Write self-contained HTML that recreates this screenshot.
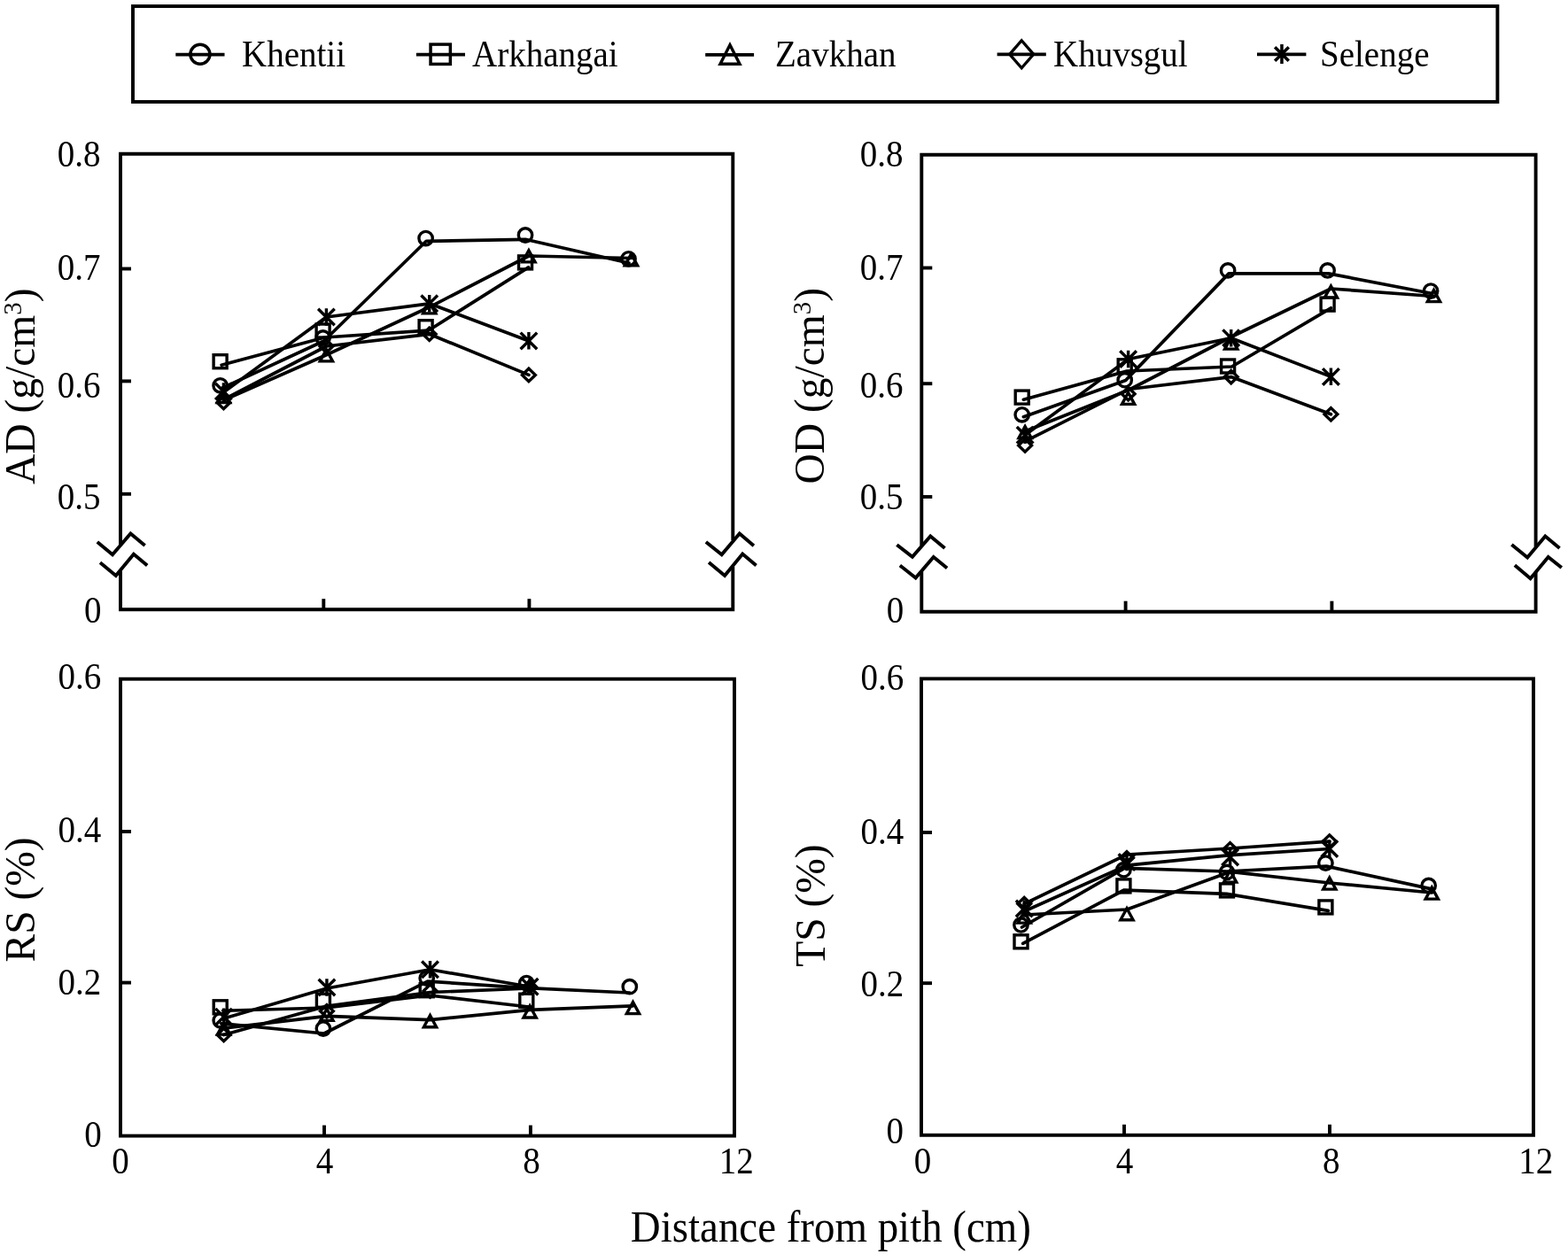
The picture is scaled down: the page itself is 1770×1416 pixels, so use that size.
<!DOCTYPE html><html><head><meta charset="utf-8"><style>html,body{margin:0;padding:0;background:#fff;}svg{display:block}</style></head><body>
<svg width="1770" height="1416" viewBox="0 0 1770 1416" font-family="'Liberation Serif','Times New Roman',serif" stroke="#000" fill="#000">
<rect x="0" y="0" width="1770" height="1416" fill="#fff" stroke="none"/>
<rect x="150" y="7" width="1540.4" height="108" fill="none" stroke-width="3.9"/>
<line x1="198.3" y1="61.6" x2="253.5" y2="61.6" stroke-width="3.8" stroke-linecap="butt"/>
<circle cx="225.9" cy="61.2" r="11" fill="none" stroke-width="3.5"/>
<line x1="469.9" y1="61.6" x2="525.0" y2="61.6" stroke-width="3.8" stroke-linecap="butt"/>
<rect x="486.05" y="50.1" width="22.3" height="22.3" fill="none" stroke-width="3.5"/>
<line x1="796.2" y1="61.8" x2="851.1" y2="61.8" stroke-width="3.8" stroke-linecap="butt"/>
<polygon points="824,50.75 835,72.25 813,72.25" fill="none" stroke-width="3.4" stroke-linejoin="miter"/>
<line x1="1125.6" y1="61.4" x2="1180.8" y2="61.4" stroke-width="3.8" stroke-linecap="butt"/>
<polygon points="1153.2,45.75 1166.7,61.3 1153.2,76.85 1139.7,61.3" fill="none" stroke-width="3.3" stroke-linejoin="miter"/>
<line x1="1419.0" y1="61.4" x2="1474.4" y2="61.4" stroke-width="3.8" stroke-linecap="butt"/>
<path d="M1446.95,50.1V72M1439.15,53.25L1454.75,68.85M1454.75,53.25L1439.15,68.85" fill="none" stroke-width="3.5"/>
<text transform="translate(273.0,75.0) scale(0.94,1)" font-size="41.5" text-anchor="start" stroke="none">Khentii</text>
<text transform="translate(533.0,75.0) scale(0.94,1)" font-size="41.5" text-anchor="start" stroke="none">Arkhangai</text>
<text transform="translate(875.0,75.0) scale(0.94,1)" font-size="41.5" text-anchor="start" stroke="none">Zavkhan</text>
<text transform="translate(1189.0,75.0) scale(0.94,1)" font-size="41.5" text-anchor="start" stroke="none">Khuvsgul</text>
<text transform="translate(1490.0,75.0) scale(0.94,1)" font-size="41.5" text-anchor="start" stroke="none">Selenge</text>
<polyline points="136.0,616.5 136.0,173.7 827.3,173.7 827.3,610.0" fill="none" stroke-width="3.9" stroke-linejoin="miter" stroke-linecap="butt"/>
<polyline points="136.0,644.6 136.0,688.2 827.3,688.2 827.3,639.8" fill="none" stroke-width="3.9" stroke-linejoin="miter" stroke-linecap="butt"/>
<line x1="136.0" y1="303.5" x2="148.0" y2="303.5" stroke-width="3.9" stroke-linecap="butt"/>
<line x1="136.0" y1="430.4" x2="148.0" y2="430.4" stroke-width="3.9" stroke-linecap="butt"/>
<line x1="136.0" y1="557.8" x2="148.0" y2="557.8" stroke-width="3.9" stroke-linecap="butt"/>
<line x1="365.3" y1="688.2" x2="365.3" y2="676.2" stroke-width="3.9" stroke-linecap="butt"/>
<line x1="597.4" y1="688.2" x2="597.4" y2="676.2" stroke-width="3.9" stroke-linecap="butt"/>
<polyline points="109.8,612.0 127.0,626.3 147.4,602.4 163.6,616.0" fill="none" stroke-width="3.9" stroke-linejoin="miter" stroke-linecap="butt"/>
<polyline points="113.0,635.3 130.8,649.9 150.9,625.8 166.2,638.5" fill="none" stroke-width="3.9" stroke-linejoin="miter" stroke-linecap="butt"/>
<polyline points="796.9,612.0 814.7,626.3 834.8,602.4 850.9,616.2" fill="none" stroke-width="3.9" stroke-linejoin="miter" stroke-linecap="butt"/>
<polyline points="800.1,635.0 818.1,649.9 838.2,625.5 853.6,638.5" fill="none" stroke-width="3.9" stroke-linejoin="miter" stroke-linecap="butt"/>
<polyline points="1040.3,616.5 1040.3,174.7 1733.6,174.7 1733.6,617.5" fill="none" stroke-width="3.9" stroke-linejoin="miter" stroke-linecap="butt"/>
<polyline points="1040.3,645.6 1040.3,690.7 1733.6,690.7 1733.6,646.2" fill="none" stroke-width="3.9" stroke-linejoin="miter" stroke-linecap="butt"/>
<line x1="1040.3" y1="302.5" x2="1052.3" y2="302.5" stroke-width="3.9" stroke-linecap="butt"/>
<line x1="1040.3" y1="433.2" x2="1052.3" y2="433.2" stroke-width="3.9" stroke-linecap="butt"/>
<line x1="1040.3" y1="561.0" x2="1052.3" y2="561.0" stroke-width="3.9" stroke-linecap="butt"/>
<line x1="1270.6" y1="690.7" x2="1270.6" y2="678.7" stroke-width="3.9" stroke-linecap="butt"/>
<line x1="1503.4" y1="690.7" x2="1503.4" y2="678.7" stroke-width="3.9" stroke-linecap="butt"/>
<polyline points="1012.4,615.2 1029.9,628.9 1050.3,605.4 1066.5,619.1" fill="none" stroke-width="3.9" stroke-linejoin="miter" stroke-linecap="butt"/>
<polyline points="1015.9,638.5 1033.6,652.5 1053.8,628.9 1069.1,641.4" fill="none" stroke-width="3.9" stroke-linejoin="miter" stroke-linecap="butt"/>
<polyline points="1706.4,614.9 1724.2,629.5 1744.3,605.4 1760.5,618.9" fill="none" stroke-width="3.9" stroke-linejoin="miter" stroke-linecap="butt"/>
<polyline points="1709.9,638.2 1727.6,653.3 1747.7,628.9 1762.8,641.1" fill="none" stroke-width="3.9" stroke-linejoin="miter" stroke-linecap="butt"/>
<rect x="136" y="766.7" width="693" height="515.8999999999999" fill="none" stroke-width="3.9"/>
<line x1="136.0" y1="939.0" x2="148.0" y2="939.0" stroke-width="3.9" stroke-linecap="butt"/>
<line x1="136.0" y1="1109.6" x2="148.0" y2="1109.6" stroke-width="3.9" stroke-linecap="butt"/>
<line x1="366.0" y1="1282.6" x2="366.0" y2="1270.6" stroke-width="3.9" stroke-linecap="butt"/>
<line x1="598.9" y1="1282.6" x2="598.9" y2="1270.6" stroke-width="3.9" stroke-linecap="butt"/>
<rect x="1040" y="766.4" width="691" height="515.4" fill="none" stroke-width="3.9"/>
<line x1="1040.0" y1="940.0" x2="1052.0" y2="940.0" stroke-width="3.9" stroke-linecap="butt"/>
<line x1="1040.0" y1="1110.2" x2="1052.0" y2="1110.2" stroke-width="3.9" stroke-linecap="butt"/>
<line x1="1269.0" y1="1281.8" x2="1269.0" y2="1269.8" stroke-width="3.9" stroke-linecap="butt"/>
<line x1="1501.0" y1="1281.8" x2="1501.0" y2="1269.8" stroke-width="3.9" stroke-linecap="butt"/>
<text transform="translate(113.6,187.8) scale(0.94,1)" font-size="41.5" text-anchor="end" stroke="none">0.8</text>
<text transform="translate(113.6,315.5) scale(0.94,1)" font-size="41.5" text-anchor="end" stroke="none">0.7</text>
<text transform="translate(113.6,448.5) scale(0.94,1)" font-size="41.5" text-anchor="end" stroke="none">0.6</text>
<text transform="translate(113.6,574.8) scale(0.94,1)" font-size="41.5" text-anchor="end" stroke="none">0.5</text>
<text transform="translate(114.4,703.1) scale(0.94,1)" font-size="41.5" text-anchor="end" stroke="none">0</text>
<text transform="translate(1019.6,187.8) scale(0.94,1)" font-size="41.5" text-anchor="end" stroke="none">0.8</text>
<text transform="translate(1019.6,315.5) scale(0.94,1)" font-size="41.5" text-anchor="end" stroke="none">0.7</text>
<text transform="translate(1019.6,448.5) scale(0.94,1)" font-size="41.5" text-anchor="end" stroke="none">0.6</text>
<text transform="translate(1019.6,574.8) scale(0.94,1)" font-size="41.5" text-anchor="end" stroke="none">0.5</text>
<text transform="translate(1020.2,703.1) scale(0.94,1)" font-size="41.5" text-anchor="end" stroke="none">0</text>
<text transform="translate(114.2,777.8) scale(0.94,1)" font-size="41.5" text-anchor="end" stroke="none">0.6</text>
<text transform="translate(114.2,951.4) scale(0.94,1)" font-size="41.5" text-anchor="end" stroke="none">0.4</text>
<text transform="translate(114.2,1122.5) scale(0.94,1)" font-size="41.5" text-anchor="end" stroke="none">0.2</text>
<text transform="translate(114.7,1294.9) scale(0.94,1)" font-size="41.5" text-anchor="end" stroke="none">0</text>
<text transform="translate(1020.2,779.3) scale(0.94,1)" font-size="41.5" text-anchor="end" stroke="none">0.6</text>
<text transform="translate(1020.2,952.8) scale(0.94,1)" font-size="41.5" text-anchor="end" stroke="none">0.4</text>
<text transform="translate(1020.2,1125.2) scale(0.94,1)" font-size="41.5" text-anchor="end" stroke="none">0.2</text>
<text transform="translate(1020.0,1291.1) scale(0.94,1)" font-size="41.5" text-anchor="end" stroke="none">0</text>
<text transform="translate(136.0,1324.8) scale(0.94,1)" font-size="41.5" text-anchor="middle" stroke="none">0</text>
<text transform="translate(366.6,1324.8) scale(0.94,1)" font-size="41.5" text-anchor="middle" stroke="none">4</text>
<text transform="translate(599.9,1324.8) scale(0.94,1)" font-size="41.5" text-anchor="middle" stroke="none">8</text>
<text transform="translate(831.2,1324.8) scale(0.94,1)" font-size="41.5" text-anchor="middle" stroke="none">12</text>
<text transform="translate(1041.4,1324.8) scale(0.94,1)" font-size="41.5" text-anchor="middle" stroke="none">0</text>
<text transform="translate(1269.6,1324.8) scale(0.94,1)" font-size="41.5" text-anchor="middle" stroke="none">4</text>
<text transform="translate(1502.7,1324.8) scale(0.94,1)" font-size="41.5" text-anchor="middle" stroke="none">8</text>
<text transform="translate(1733.8,1324.8) scale(0.94,1)" font-size="41.5" text-anchor="middle" stroke="none">12</text>
<text transform="translate(38.8,436.3) rotate(-90)" font-size="47.5" text-anchor="middle" stroke="none">AD (g/cm<tspan font-size="29" dy="-15">3</tspan><tspan dy="15">)</tspan></text>
<text transform="translate(929.8,435.8) rotate(-90)" font-size="47.5" text-anchor="middle" stroke="none">OD (g/cm<tspan font-size="29" dy="-15">3</tspan><tspan dy="15">)</tspan></text>
<text transform="translate(38.8,1015.9) rotate(-90)" font-size="47.5" text-anchor="middle" stroke="none">RS (%)</text>
<text transform="translate(930.8,1022.6) rotate(-90)" font-size="47.5" text-anchor="middle" stroke="none">TS (%)</text>
<text transform="translate(937.9,1402.0) scale(0.92,1)" font-size="51" text-anchor="middle" stroke="none">Distance from pith (cm)</text>
<polyline points="249.6,438.8 365.6,385.0 481.2,272.3 593.0,270.3 710.0,297.0" fill="none" stroke-width="3.7" stroke-linejoin="round" stroke-linecap="round"/>
<circle cx="248.6" cy="435.3" r="7.70" fill="none" stroke-width="3.40"/>
<circle cx="364.6" cy="381.5" r="7.70" fill="none" stroke-width="3.40"/>
<circle cx="480.6" cy="269.1" r="7.70" fill="none" stroke-width="3.40"/>
<circle cx="593.0" cy="265.5" r="7.70" fill="none" stroke-width="3.40"/>
<circle cx="709.5" cy="292.3" r="7.70" fill="none" stroke-width="3.40"/>
<polyline points="250.1,412.2 366.5,381.0 483.6,373.2 596.6,301.9" fill="none" stroke-width="3.7" stroke-linejoin="round" stroke-linecap="round"/>
<rect x="241.1" y="400.7" width="15.0" height="15.0" fill="none" stroke-width="3.40"/>
<rect x="357.1" y="366.0" width="15.0" height="15.0" fill="none" stroke-width="3.40"/>
<rect x="473.1" y="361.7" width="15.0" height="15.0" fill="none" stroke-width="3.40"/>
<rect x="585.5" y="288.9" width="15.0" height="15.0" fill="none" stroke-width="3.40"/>
<polyline points="252.4,452.0 368.4,400.8 484.7,346.8 596.9,289.0 712.5,291.5" fill="none" stroke-width="3.7" stroke-linejoin="round" stroke-linecap="round"/>
<polygon points="252.4,441.4 259.5,454.5 245.3,454.5" fill="none" stroke-width="3.40" stroke-linejoin="miter"/>
<polygon points="368.4,394.8 375.5,407.9 361.3,407.9" fill="none" stroke-width="3.40" stroke-linejoin="miter"/>
<polygon points="484.7,340.8 491.8,353.9 477.6,353.9" fill="none" stroke-width="3.40" stroke-linejoin="miter"/>
<polygon points="596.9,282.8 604.0,295.9 589.8,295.9" fill="none" stroke-width="3.40" stroke-linejoin="miter"/>
<polygon points="712.5,286.8 719.6,299.9 705.4,299.9" fill="none" stroke-width="3.40" stroke-linejoin="miter"/>
<polyline points="252.4,451.2 368.4,391.0 484.7,377.3 596.9,423.4" fill="none" stroke-width="3.7" stroke-linejoin="round" stroke-linecap="round"/>
<polygon points="252.4,447.3 259.8,454.5 252.4,461.7 245.0,454.5" fill="none" stroke-width="3.40" stroke-linejoin="miter"/>
<polygon points="368.4,383.8 375.8,391.0 368.4,398.2 361.0,391.0" fill="none" stroke-width="3.40" stroke-linejoin="miter"/>
<polygon points="484.7,370.1 492.1,377.3 484.7,384.5 477.3,377.3" fill="none" stroke-width="3.40" stroke-linejoin="miter"/>
<polygon points="596.9,416.2 604.3,423.4 596.9,430.6 589.5,423.4" fill="none" stroke-width="3.40" stroke-linejoin="miter"/>
<polyline points="252.4,443.0 368.4,358.0 484.7,342.8 596.9,384.9" fill="none" stroke-width="3.7" stroke-linejoin="round" stroke-linecap="round"/>
<path d="M252.4,432.2V451.8M243.1,432.7L261.7,451.3M261.7,432.7L243.1,451.3" fill="none" stroke-width="3.40"/>
<path d="M368.4,348.2V367.8M359.1,348.7L377.7,367.3M377.7,348.7L359.1,367.3" fill="none" stroke-width="3.40"/>
<path d="M484.7,333.1V352.6M475.4,333.5L494.0,352.1M494.0,333.5L475.4,352.1" fill="none" stroke-width="3.40"/>
<path d="M596.9,375.1V394.6M587.6,375.6L606.2,394.2M606.2,375.6L587.6,394.2" fill="none" stroke-width="3.40"/>
<polyline points="1155.4,470.7 1270.7,429.5 1387.1,308.9 1499.6,308.9 1617.0,331.5" fill="none" stroke-width="3.7" stroke-linejoin="round" stroke-linecap="round"/>
<circle cx="1153.7" cy="468.3" r="7.70" fill="none" stroke-width="3.40"/>
<circle cx="1269.7" cy="429.2" r="7.70" fill="none" stroke-width="3.40"/>
<circle cx="1386.1" cy="305.4" r="7.70" fill="none" stroke-width="3.40"/>
<circle cx="1498.6" cy="305.4" r="7.70" fill="none" stroke-width="3.40"/>
<circle cx="1615.1" cy="328.6" r="7.70" fill="none" stroke-width="3.40"/>
<polyline points="1155.4,451.2 1272.0,419.0 1390.5,414.0 1502.4,347.8" fill="none" stroke-width="3.7" stroke-linejoin="round" stroke-linecap="round"/>
<rect x="1146.2" y="441.1" width="15.0" height="15.0" fill="none" stroke-width="3.40"/>
<rect x="1262.2" y="405.8" width="15.0" height="15.0" fill="none" stroke-width="3.40"/>
<rect x="1378.6" y="406.0" width="15.0" height="15.0" fill="none" stroke-width="3.40"/>
<rect x="1491.1" y="336.1" width="15.0" height="15.0" fill="none" stroke-width="3.40"/>
<polyline points="1157.1,487.0 1273.9,440.5 1389.7,380.5 1502.4,326.0 1618.5,334.5" fill="none" stroke-width="3.7" stroke-linejoin="round" stroke-linecap="round"/>
<polygon points="1157.1,481.5 1164.2,494.6 1150.0,494.6" fill="none" stroke-width="3.40" stroke-linejoin="miter"/>
<polygon points="1273.6,443.3 1280.7,456.4 1266.5,456.4" fill="none" stroke-width="3.40" stroke-linejoin="miter"/>
<polygon points="1389.7,381.0 1396.8,394.1 1382.6,394.1" fill="none" stroke-width="3.40" stroke-linejoin="miter"/>
<polygon points="1502.4,323.0 1509.5,336.1 1495.3,336.1" fill="none" stroke-width="3.40" stroke-linejoin="miter"/>
<polygon points="1618.5,327.5 1625.6,340.6 1611.4,340.6" fill="none" stroke-width="3.40" stroke-linejoin="miter"/>
<polyline points="1157.1,498.4 1273.9,439.5 1389.7,425.6 1502.4,467.8" fill="none" stroke-width="3.7" stroke-linejoin="round" stroke-linecap="round"/>
<polygon points="1157.1,495.8 1164.5,503.0 1157.1,510.2 1149.7,503.0" fill="none" stroke-width="3.40" stroke-linejoin="miter"/>
<polygon points="1273.6,437.5 1281.0,444.7 1273.6,451.9 1266.2,444.7" fill="none" stroke-width="3.40" stroke-linejoin="miter"/>
<polygon points="1389.7,418.4 1397.1,425.6 1389.7,432.8 1382.3,425.6" fill="none" stroke-width="3.40" stroke-linejoin="miter"/>
<polygon points="1502.4,460.6 1509.8,467.8 1502.4,475.0 1495.0,467.8" fill="none" stroke-width="3.40" stroke-linejoin="miter"/>
<polyline points="1157.1,491.3 1273.6,405.5 1389.7,381.7 1502.4,425.4" fill="none" stroke-width="3.7" stroke-linejoin="round" stroke-linecap="round"/>
<path d="M1157.1,481.6V501.1M1147.8,482.0L1166.4,500.6M1166.4,482.0L1147.8,500.6" fill="none" stroke-width="3.40"/>
<path d="M1273.6,395.8V415.2M1264.3,396.2L1282.9,414.8M1282.9,396.2L1264.3,414.8" fill="none" stroke-width="3.40"/>
<path d="M1389.7,371.9V391.4M1380.4,372.4L1399.0,391.0M1399.0,372.4L1380.4,391.0" fill="none" stroke-width="3.40"/>
<path d="M1502.4,415.6V435.1M1493.1,416.1L1511.7,434.7M1511.7,416.1L1493.1,434.7" fill="none" stroke-width="3.40"/>
<polyline points="249.7,1155.8 365.9,1167.0 482.7,1108.1 595.3,1115.7 710.8,1121.0" fill="none" stroke-width="3.7" stroke-linejoin="round" stroke-linecap="round"/>
<circle cx="248.7" cy="1152.3" r="7.70" fill="none" stroke-width="3.40"/>
<circle cx="364.9" cy="1161.5" r="7.70" fill="none" stroke-width="3.40"/>
<circle cx="481.7" cy="1104.6" r="7.70" fill="none" stroke-width="3.40"/>
<circle cx="594.3" cy="1110.1" r="7.70" fill="none" stroke-width="3.40"/>
<circle cx="710.8" cy="1114.2" r="7.70" fill="none" stroke-width="3.40"/>
<polyline points="251.7,1141.3 367.9,1138.0 484.7,1124.0 597.3,1137.0" fill="none" stroke-width="3.7" stroke-linejoin="round" stroke-linecap="round"/>
<rect x="241.2" y="1129.8" width="15.0" height="15.0" fill="none" stroke-width="3.40"/>
<rect x="357.4" y="1122.3" width="15.0" height="15.0" fill="none" stroke-width="3.40"/>
<rect x="474.2" y="1110.7" width="15.0" height="15.0" fill="none" stroke-width="3.40"/>
<rect x="586.8" y="1122.2" width="15.0" height="15.0" fill="none" stroke-width="3.40"/>
<polyline points="252.6,1161.0 368.9,1147.3 485.5,1151.6 598.1,1140.3 714.5,1135.8" fill="none" stroke-width="3.7" stroke-linejoin="round" stroke-linecap="round"/>
<polygon points="252.6,1155.0 259.7,1168.1 245.5,1168.1" fill="none" stroke-width="3.40" stroke-linejoin="miter"/>
<polygon points="368.9,1139.3 376.0,1152.4 361.8,1152.4" fill="none" stroke-width="3.40" stroke-linejoin="miter"/>
<polygon points="485.5,1146.6 492.6,1159.7 478.4,1159.7" fill="none" stroke-width="3.40" stroke-linejoin="miter"/>
<polygon points="598.1,1135.9 605.2,1149.0 591.0,1149.0" fill="none" stroke-width="3.40" stroke-linejoin="miter"/>
<polygon points="714.5,1131.5 721.6,1144.6 707.4,1144.6" fill="none" stroke-width="3.40" stroke-linejoin="miter"/>
<polyline points="252.6,1168.5 368.9,1136.0 485.5,1120.5 598.1,1116.0" fill="none" stroke-width="3.7" stroke-linejoin="round" stroke-linecap="round"/>
<polygon points="252.6,1161.3 260.0,1168.5 252.6,1175.7 245.2,1168.5" fill="none" stroke-width="3.40" stroke-linejoin="miter"/>
<polygon points="368.9,1134.6 376.3,1141.8 368.9,1149.0 361.5,1141.8" fill="none" stroke-width="3.40" stroke-linejoin="miter"/>
<polygon points="485.5,1111.8 492.9,1119.0 485.5,1126.2 478.1,1119.0" fill="none" stroke-width="3.40" stroke-linejoin="miter"/>
<polygon points="598.1,1107.0 605.5,1114.2 598.1,1121.4 590.7,1114.2" fill="none" stroke-width="3.40" stroke-linejoin="miter"/>
<polyline points="252.6,1150.0 368.9,1116.0 485.5,1094.8 598.1,1114.2" fill="none" stroke-width="3.7" stroke-linejoin="round" stroke-linecap="round"/>
<path d="M252.6,1138.5V1158.0M243.3,1138.9L261.9,1157.5M261.9,1138.9L243.3,1157.5" fill="none" stroke-width="3.40"/>
<path d="M368.9,1105.2V1124.8M359.6,1105.7L378.2,1124.3M378.2,1105.7L359.6,1124.3" fill="none" stroke-width="3.40"/>
<path d="M485.5,1085.0V1104.5M476.2,1085.5L494.8,1104.1M494.8,1085.5L476.2,1104.1" fill="none" stroke-width="3.40"/>
<path d="M598.1,1104.5V1124.0M588.8,1104.9L607.4,1123.5M607.4,1104.9L588.8,1123.5" fill="none" stroke-width="3.40"/>
<polyline points="1153.5,1047.0 1269.4,980.3 1385.0,984.0 1497.4,978.1 1613.7,1003.4" fill="none" stroke-width="3.7" stroke-linejoin="round" stroke-linecap="round"/>
<circle cx="1152.5" cy="1044.4" r="7.70" fill="none" stroke-width="3.40"/>
<circle cx="1268.4" cy="982.2" r="7.70" fill="none" stroke-width="3.40"/>
<circle cx="1385.0" cy="984.9" r="7.70" fill="none" stroke-width="3.40"/>
<circle cx="1496.4" cy="974.6" r="7.70" fill="none" stroke-width="3.40"/>
<circle cx="1612.7" cy="999.9" r="7.70" fill="none" stroke-width="3.40"/>
<polyline points="1154.7,1065.3 1269.0,1005.0 1384.7,1009.4 1499.4,1028.4" fill="none" stroke-width="3.7" stroke-linejoin="round" stroke-linecap="round"/>
<rect x="1145.0" y="1055.8" width="15.0" height="15.0" fill="none" stroke-width="3.40"/>
<rect x="1260.9" y="992.9" width="15.0" height="15.0" fill="none" stroke-width="3.40"/>
<rect x="1377.5" y="997.9" width="15.0" height="15.0" fill="none" stroke-width="3.40"/>
<rect x="1488.9" y="1016.9" width="15.0" height="15.0" fill="none" stroke-width="3.40"/>
<polyline points="1156.2,1033.0 1272.0,1027.0 1388.6,984.4 1500.8,997.0 1616.3,1008.0" fill="none" stroke-width="3.7" stroke-linejoin="round" stroke-linecap="round"/>
<polygon points="1156.2,1029.0 1163.3,1042.1 1149.1,1042.1" fill="none" stroke-width="3.40" stroke-linejoin="miter"/>
<polygon points="1272.0,1025.7 1279.1,1038.8 1264.9,1038.8" fill="none" stroke-width="3.40" stroke-linejoin="miter"/>
<polygon points="1388.6,983.0 1395.7,996.1 1381.5,996.1" fill="none" stroke-width="3.40" stroke-linejoin="miter"/>
<polygon points="1500.8,991.0 1507.9,1004.1 1493.7,1004.1" fill="none" stroke-width="3.40" stroke-linejoin="miter"/>
<polygon points="1616.3,1002.0 1623.4,1015.1 1609.2,1015.1" fill="none" stroke-width="3.40" stroke-linejoin="miter"/>
<polyline points="1156.2,1020.6 1272.0,965.0 1388.6,958.0 1500.8,950.1" fill="none" stroke-width="3.7" stroke-linejoin="round" stroke-linecap="round"/>
<polygon points="1156.2,1013.4 1163.6,1020.6 1156.2,1027.8 1148.8,1020.6" fill="none" stroke-width="3.40" stroke-linejoin="miter"/>
<polygon points="1272.0,961.6 1279.4,968.8 1272.0,976.0 1264.6,968.8" fill="none" stroke-width="3.40" stroke-linejoin="miter"/>
<polygon points="1388.6,951.6 1396.0,958.8 1388.6,966.0 1381.2,958.8" fill="none" stroke-width="3.40" stroke-linejoin="miter"/>
<polygon points="1500.8,942.9 1508.2,950.1 1500.8,957.3 1493.4,950.1" fill="none" stroke-width="3.40" stroke-linejoin="miter"/>
<polyline points="1156.2,1029.0 1272.0,977.2 1388.6,965.7 1500.8,958.5" fill="none" stroke-width="3.7" stroke-linejoin="round" stroke-linecap="round"/>
<path d="M1156.2,1016.2V1035.8M1146.9,1016.7L1165.5,1035.3M1165.5,1016.7L1146.9,1035.3" fill="none" stroke-width="3.40"/>
<path d="M1272.0,963.8V983.2M1262.7,964.2L1281.3,982.8M1281.3,964.2L1262.7,982.8" fill="none" stroke-width="3.40"/>
<path d="M1388.6,958.2V977.8M1379.3,958.7L1397.9,977.3M1397.9,958.7L1379.3,977.3" fill="none" stroke-width="3.40"/>
<path d="M1500.8,948.8V968.2M1491.5,949.2L1510.1,967.8M1510.1,949.2L1491.5,967.8" fill="none" stroke-width="3.40"/>
</svg></body></html>
